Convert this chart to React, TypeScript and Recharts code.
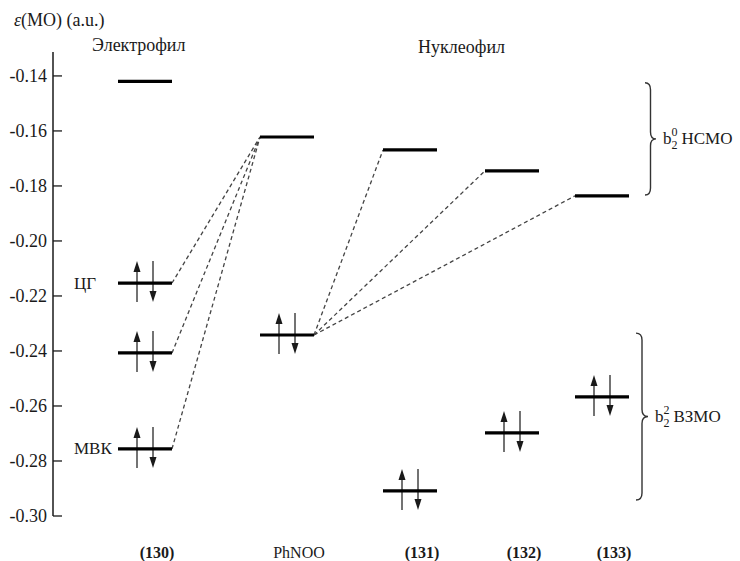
import { ComposedChart, XAxis, YAxis, Scatter, Line, ReferenceArea } from 'recharts';

// horizontal column positions of each molecule (hidden x axis, 0..650)
const columns = ['(130)', 'PhNOO', '(131)', '(132)', '(133)'];
const columnPos = [92, 234, 357, 459, 549];
const boldColumn = [true, false, true, true, true];

// electrophile (130) orbital energies
const electrophileLevels = [-0.142, -0.2153, -0.2407, -0.2756];
const electrophileOccupied = [false, true, true, true];
const electrophileNames = ['', 'ЦГ', '', 'МВК'];

// nucleophiles: PhNOO, 131, 132, 133
const nucleophileLumo = [-0.1622, -0.1669, -0.1745, -0.1836];
const nucleophileHomo = [-0.2342, -0.2909, -0.2698, -0.2567];

const yTicks = [-0.3, -0.28, -0.26, -0.24, -0.22, -0.2, -0.18, -0.16, -0.14];

const lumoBrace = [-0.1425, -0.1833];
const homoBrace = [-0.2335, -0.2942];

const LEVEL_HALF = 27;
const FONT = 'Tinos, "Times New Roman", "Liberation Serif", "DejaVu Serif", "Noto Serif", serif';
const INK = '#1a1a1a';

const levels = [
  ...electrophileLevels.map((y, i) => ({
    x: columnPos[0],
    y,
    occupied: electrophileOccupied[i],
    name: electrophileNames[i],
  })),
  ...nucleophileLumo.map((y, i) => ({ x: columnPos[i + 1], y, occupied: false, name: '' })),
  ...nucleophileHomo.map((y, i) => ({ x: columnPos[i + 1], y, occupied: true, name: '' })),
];

// dashed correlation lines: right end of one level to left end of another
const connectors = [
  ...[1, 2, 3].map((i) => [
    { x: columnPos[0] + LEVEL_HALF, y: electrophileLevels[i] },
    { x: columnPos[1] - LEVEL_HALF, y: nucleophileLumo[0] },
  ]),
  ...[1, 2, 3].map((i) => [
    { x: columnPos[1] + LEVEL_HALF, y: nucleophileHomo[0] },
    { x: columnPos[i + 1] - LEVEL_HALF, y: nucleophileLumo[i] },
  ]),
];

function Arrow({ x, from, to }: { x: number; from: number; to: number }) {
  const dir = Math.sign(to - from);
  return (
    <g>
      <line x1={x} y1={from} x2={x} y2={to - dir * 8} stroke="#444" strokeWidth={1.5} />
      <polygon
        points={`${x},${to} ${x - 3.5},${to - dir * 11} ${x + 3.5},${to - dir * 11}`}
        fill={INK}
      />
    </g>
  );
}

function LevelShape(props: any) {
  const { cx, cy, payload } = props;
  return (
    <g>
      {payload.name && (
        <text
          x={cx - 71}
          y={cy}
          dominantBaseline="central"
          fontFamily={FONT}
          fontSize={17}
          fill={INK}
        >
          {payload.name}
        </text>
      )}
      {payload.occupied && (
        <>
          <Arrow x={cx - 8} from={cy + 19} to={cy - 22} />
          <Arrow x={cx + 8} from={cy - 22} to={cy + 19} />
        </>
      )}
      <line
        x1={cx - LEVEL_HALF}
        x2={cx + LEVEL_HALF}
        y1={cy}
        y2={cy}
        stroke="#000"
        strokeWidth={3.2}
      />
    </g>
  );
}

function Brace(props: any) {
  const { x, y, width, height, kind } = props;
  const L = x;
  const R = x + width;
  const m = (L + R) / 2;
  const T = y;
  const B = y + height;
  const M = (T + B) / 2;
  const r = 7;
  const d = `M${L},${T} Q${m},${T} ${m},${T + r} L${m},${M - r} Q${m},${M} ${R},${M} Q${m},${M} ${m},${M + r} L${m},${B - r} Q${m},${B} ${L},${B}`;
  return (
    <g>
      <path d={d} fill="none" stroke="#333" strokeWidth={1.4} />
      <text x={R + 7} y={M + 5} fontFamily={FONT} fontSize={17} fill={INK}>
        <tspan>b</tspan>
        <tspan dy={5} fontSize={12}>2</tspan>
        <tspan dx={-6} dy={-13} fontSize={12}>{kind === 'lumo' ? '0' : '2'}</tspan>
        <tspan dx={4} dy={8}>{kind === 'lumo' ? 'НСМО' : 'ВЗМО'}</tspan>
      </text>
    </g>
  );
}

function YTick(props: any) {
  const { x, y, payload } = props;
  return (
    <g>
      <line x1={x + 6} x2={x + 15} y1={y} y2={y} stroke={INK} strokeWidth={1.3} />
      <text
        x={x}
        y={y}
        textAnchor="end"
        dominantBaseline="central"
        fontFamily={FONT}
        fontSize={18}
        fill={INK}
      >
        {payload.value.toFixed(2)}
      </text>
    </g>
  );
}

function XTick(props: any) {
  const { x, y, payload } = props;
  const i = columnPos.indexOf(payload.value);
  if (i < 0) return null;
  return (
    <text
      x={x + 12}
      y={y + 36}
      textAnchor="middle"
      dominantBaseline="central"
      fontFamily={FONT}
      fontSize={16}
      fontWeight={boldColumn[i] ? 'bold' : 'normal'}
      fill={INK}
    >
      {columns[i]}
    </text>
  );
}

const labelStyle: React.CSSProperties = {
  position: 'absolute',
  fontFamily: FONT,
  fontSize: 18,
  color: INK,
  whiteSpace: 'nowrap',
  lineHeight: '20px',
};

export default function App() {
  return (
    <div
      style={{
        position: 'absolute',
        left: 0,
        top: 0,
        width: 740,
        height: 561,
        background: '#fff',
      }}
    >
      <ComposedChart
        width={740}
        height={561}
        margin={{ top: 52, right: 37, bottom: 15, left: 0 }}
      >
        <XAxis
          type="number"
          dataKey="x"
          domain={[0, 650]}
          ticks={columnPos}
          axisLine={false}
          tickLine={false}
          tickSize={0}
          tickMargin={0}
          height={30}
          tick={<XTick />}
        />
        <YAxis
          type="number"
          dataKey="y"
          domain={[-0.3, -0.1313]}
          ticks={yTicks}
          width={53}
          tickSize={0}
          tickMargin={6}
          tickLine={false}
          axisLine={{ stroke: INK, strokeWidth: 1.5 }}
          tick={<YTick />}
        />
        {connectors.map((pts, i) => (
          <Line
            key={`c-${i}`}
            data={pts}
            dataKey="y"
            stroke="#444"
            strokeWidth={1.3}
            strokeDasharray="4 3"
            dot={false}
            activeDot={false}
            isAnimationActive={false}
          />
        ))}
        <Scatter data={levels} shape={<LevelShape />} isAnimationActive={false} />
        <ReferenceArea
          x1={592}
          x2={603}
          y1={lumoBrace[0]}
          y2={lumoBrace[1]}
          shape={(p: any) => <Brace {...p} kind="lumo" />}
        />
        <ReferenceArea
          x1={583}
          x2={595}
          y1={homoBrace[0]}
          y2={homoBrace[1]}
          shape={(p: any) => <Brace {...p} kind="homo" />}
        />
      </ComposedChart>
      <div style={{ ...labelStyle, left: 14, top: 10 }}>
        <i>ε</i>(МО) (a.u.)
      </div>
      <div style={{ ...labelStyle, left: 92, top: 35 }}>Электрофил</div>
      <div style={{ ...labelStyle, left: 418, top: 37 }}>Нуклеофил</div>
    </div>
  );
}
